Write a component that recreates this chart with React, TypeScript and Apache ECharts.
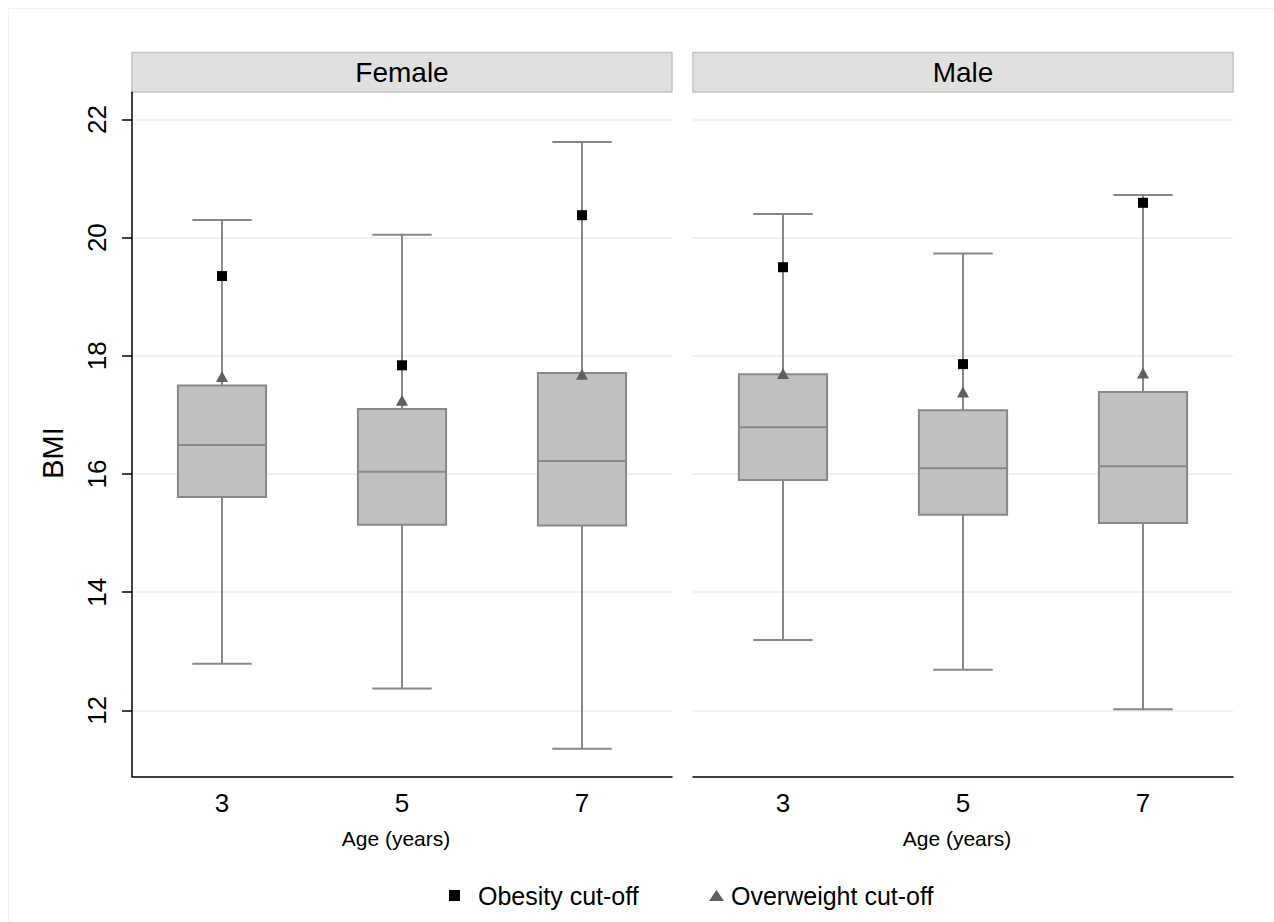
import React, { useEffect, useRef } from "react";
import * as echarts from "echarts";

// ---- data ----
const panels = ["Female", "Male"];
const ages = [3, 5, 7];
// [low whisker, Q1, median, Q3, high whisker]
const femaleBoxes = [
  [12.79, 15.61, 16.49, 17.5, 20.3],
  [12.37, 15.14, 16.04, 17.1, 20.05],
  [11.35, 15.13, 16.22, 17.71, 21.62],
];
const maleBoxes = [
  [13.19, 15.9, 16.79, 17.69, 20.4],
  [12.69, 15.31, 16.1, 17.08, 19.73],
  [12.02, 15.17, 16.13, 17.39, 20.72],
];
const femaleObesity = [19.35, 17.84, 20.38];
const maleObesity = [19.5, 17.86, 20.59];
const femaleOverweight = [17.65, 17.25, 17.69];
const maleOverweight = [17.7, 17.39, 17.71];
const yTicks = [12, 14, 16, 18, 20, 22];
const xTicks = [3, 5, 7];

const FONT = "'Liberation Sans', Arial, Helvetica, sans-serif";
const BOX_FILL = "#c0c0c0";
const BOX_LINE = "#888888";

export default function App() {
  const ref = useRef<HTMLDivElement>(null);

  useEffect(() => {
    document.body.style.margin = "0";
    const chart = echarts.init(ref.current!, undefined, { renderer: "svg" });

    const gridTop = 92.3;
    const gridHeight = 684.3;
    const grids = [
      { left: 132, top: gridTop, width: 540, height: gridHeight },
      { left: 693, top: gridTop, width: 540, height: gridHeight },
    ];

    const boxRender = (params: any, api: any) => {
      const x = api.value(0);
      const lo = api.coord([x, api.value(1)]);
      const q1 = api.coord([x, api.value(2)]);
      const md = api.coord([x, api.value(3)]);
      const q3 = api.coord([x, api.value(4)]);
      const hi = api.coord([x, api.value(5)]);
      const unit = api.size([1, 0])[0];
      const bw = unit * 0.49;
      const cw = unit * 0.33;
      const cx = lo[0];
      const ls = { stroke: BOX_LINE, lineWidth: 2 };
      return {
        type: "group",
        children: [
          { type: "line", shape: { x1: cx, y1: lo[1], x2: cx, y2: q1[1] }, style: ls },
          { type: "line", shape: { x1: cx, y1: q3[1], x2: cx, y2: hi[1] }, style: ls },
          { type: "line", shape: { x1: cx - cw, y1: lo[1], x2: cx + cw, y2: lo[1] }, style: ls },
          { type: "line", shape: { x1: cx - cw, y1: hi[1], x2: cx + cw, y2: hi[1] }, style: ls },
          {
            type: "rect",
            shape: { x: cx - bw, y: q3[1], width: bw * 2, height: q1[1] - q3[1] },
            style: { fill: BOX_FILL, stroke: BOX_LINE, lineWidth: 2 },
          },
          { type: "line", shape: { x1: cx - bw, y1: md[1], x2: cx + bw, y2: md[1] }, style: ls },
        ],
      };
    };

    const boxData = (boxes: number[][]) => boxes.map((b, i) => [ages[i], ...b]);
    const pts = (vals: number[]) => vals.map((v, i) => [ages[i], v]);

    const xAxisBase = (i: number) => ({
      type: "value",
      gridIndex: i,
      min: 2,
      max: 8,
      axisLine: { show: true, onZero: false, lineStyle: { color: "#000", width: 1.5 } },
      axisTick: { show: false },
      splitLine: { show: false },
      axisLabel: {
        customValues: xTicks,
        fontSize: 26,
        color: "#000",
        fontFamily: FONT,
        margin: 13,
      },
    });

    const yAxisBase = (i: number) => ({
      type: "value",
      gridIndex: i,
      min: 10.88,
      max: 22.46,
      axisLine: { show: i === 0, lineStyle: { color: "#000", width: 1.5 } },
      axisTick: {
        show: i === 0,
        customValues: yTicks,
        length: 10,
        lineStyle: { color: "#000", width: 1.5 },
      },
      axisLabel: {
        show: i === 0,
        customValues: yTicks,
        rotate: 90,
        fontSize: 26,
        color: "#000",
        fontFamily: FONT,
        margin: 22,
      },
      splitLine: { show: true, lineStyle: { color: "#eaf2f3", width: 2 } },
    });

    const graphics: any[] = [
      {
        type: "rect",
        shape: { x: 8.5, y: 8.5, width: 1400, height: 1200 },
        style: { fill: "none", stroke: "#eef3f4", lineWidth: 1 },
        silent: true,
      },
      {
        type: "text",
        x: 53,
        y: 453,
        rotation: Math.PI / 2,
        style: {
          text: "BMI",
          fontSize: 29,
          fontFamily: FONT,
          fill: "#000",
          align: "center",
          verticalAlign: "middle",
        },
      },
    ];
    grids.forEach((g, i) => {
      graphics.push({
        type: "rect",
        shape: { x: g.left, y: 52.5, width: g.width, height: 39.5 },
        style: { fill: "#e0e0e0", stroke: "#c4c4c4", lineWidth: 1.5 },
      });
      graphics.push({
        type: "text",
        x: g.left + g.width / 2,
        y: 72.5,
        style: {
          text: panels[i],
          fontSize: 28,
          fontFamily: FONT,
          fill: "#000",
          align: "center",
          verticalAlign: "middle",
        },
      });
      graphics.push({
        type: "text",
        x: g.left + g.width / 2 - 6,
        y: 838,
        style: {
          text: "Age (years)",
          fontSize: 21,
          fontFamily: FONT,
          fill: "#000",
          align: "center",
          verticalAlign: "middle",
        },
      });
    });

    const sqStyle = { color: "#000", opacity: 1 };
    const triStyle = { color: "#5f5f5f", opacity: 1 };

    const option: any = {
      animation: false,
      backgroundColor: "#fff",
      textStyle: { fontFamily: FONT },
      grid: grids,
      xAxis: [xAxisBase(0), xAxisBase(1)],
      yAxis: [yAxisBase(0), yAxisBase(1)],
      legend: [
        {
          data: [{ name: "Obesity cut-off", icon: "rect" }],
          left: 449,
          top: 883,
          padding: 0,
          itemWidth: 11,
          itemHeight: 11,
          itemStyle: { opacity: 1 },
          textStyle: { fontSize: 25, color: "#000", fontFamily: FONT, padding: [0, 0, 0, 13] },
          selectedMode: false,
        },
        {
          data: [{ name: "Overweight cut-off", icon: "triangle" }],
          left: 709,
          top: 883,
          padding: 0,
          itemWidth: 15,
          itemHeight: 11,
          itemStyle: { opacity: 1 },
          textStyle: { fontSize: 25, color: "#000", fontFamily: FONT, padding: [0, 0, 0, 2] },
          selectedMode: false,
        },
      ],
      graphic: graphics,
      series: [
        {
          type: "custom",
          xAxisIndex: 0,
          yAxisIndex: 0,
          renderItem: boxRender,
          data: boxData(femaleBoxes),
          z: 2,
        },
        {
          type: "custom",
          xAxisIndex: 1,
          yAxisIndex: 1,
          renderItem: boxRender,
          data: boxData(maleBoxes),
          z: 2,
        },
        {
          name: "Obesity cut-off",
          type: "scatter",
          xAxisIndex: 0,
          yAxisIndex: 0,
          symbol: "rect",
          symbolSize: 10,
          itemStyle: sqStyle,
          data: pts(femaleObesity),
          z: 5,
        },
        {
          name: "Obesity cut-off",
          type: "scatter",
          xAxisIndex: 1,
          yAxisIndex: 1,
          symbol: "rect",
          symbolSize: 10,
          itemStyle: sqStyle,
          data: pts(maleObesity),
          z: 5,
        },
        {
          name: "Overweight cut-off",
          type: "scatter",
          xAxisIndex: 0,
          yAxisIndex: 0,
          symbol: "triangle",
          symbolSize: [12, 11],
          itemStyle: triStyle,
          data: pts(femaleOverweight),
          z: 5,
        },
        {
          name: "Overweight cut-off",
          type: "scatter",
          xAxisIndex: 1,
          yAxisIndex: 1,
          symbol: "triangle",
          symbolSize: [12, 11],
          itemStyle: triStyle,
          data: pts(maleOverweight),
          z: 5,
        },
      ],
    };

    chart.setOption(option);
    return () => chart.dispose();
  }, []);

  return <div ref={ref} style={{ width: 1274, height: 922 }} />;
}
